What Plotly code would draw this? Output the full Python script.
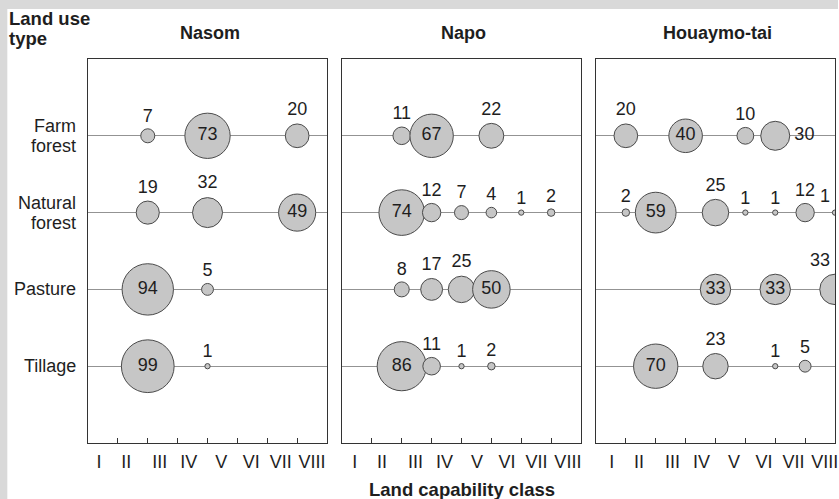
import math
import plotly.graph_objects as go

# ---------------- data ----------------
regions = ["Nasom", "Napo", "Houaymo-tai"]
land_uses = ["Farm\nforest", "Natural\nforest", "Pasture", "Tillage"]
class_labels = ["I", "II", "III", "IV", "V", "VI", "VII", "VIII"]

# values (%) per land capability class I..VIII (None = no area)
nasom_farm_forest = [None, 7, None, 73, None, None, 20, None]
nasom_natural_forest = [None, 19, None, 32, None, None, 49, None]
nasom_pasture = [None, 94, None, 5, None, None, None, None]
nasom_tillage = [None, 99, None, 1, None, None, None, None]

napo_farm_forest = [None, 11, 67, None, 22, None, None, None]
napo_natural_forest = [None, 74, 12, 7, 4, 1, 2, None]
napo_pasture = [None, 8, 17, 25, 50, None, None, None]
napo_tillage = [None, 86, 11, 1, 2, None, None, None]

houaymo_farm_forest = [20, None, 40, None, 10, 30, None, None]
houaymo_natural_forest = [2, 59, None, 25, 1, 1, 12, 1]
houaymo_pasture = [None, None, None, 33, None, 33, None, 33]
houaymo_tillage = [None, 70, None, 23, None, 1, 5, None]

region_data = {
    "Nasom": [nasom_farm_forest, nasom_natural_forest, nasom_pasture, nasom_tillage],
    "Napo": [napo_farm_forest, napo_natural_forest, napo_pasture, napo_tillage],
    "Houaymo-tai": [houaymo_farm_forest, houaymo_natural_forest, houaymo_pasture, houaymo_tillage],
}

# ---------------- layout geometry ----------------
W, H = 839, 499
ML, MR, MT, MB = 88, 1, 59, 56
PW = W - ML - MR
PH = H - MT - MB
panel_left_px = [88, 343, 598]
panel_w_px = 240
label_shift = [-0.06, 0.0, 0.1]


def px_x(px):
    return (px - ML) / PW


def px_y(py):
    return (H - MB - py) / PH


FONT = "Liberation Sans, Arial, Helvetica, sans-serif"
TXT = "#1e1e1e"
BORDER = "#333333"
GRID = "#939393"
FILL = "#c6c6c6"
EDGE = "#4a4a4a"
NUM_SIZE = 18
SIZE_K = 5.3

label_pos = [0.43, 1.34, 2.46, 3.43, 4.52, 5.52, 6.51, 7.56]

fig = go.Figure()

for i, reg in enumerate(regions):
    ax = "" if i == 0 else str(i + 1)
    xs, ys, sizes, texts, tpos = [], [], [], [], []
    for r, series in enumerate(region_data[reg]):
        for c, v in enumerate(series):
            if v is None:
                continue
            d = SIZE_K * math.sqrt(v)
            xs.append(c + 1)
            ys.append(r + 1)
            sizes.append(d)
            if c == len(series) - 1:
                # label sits above-left of a bubble on the panel's right edge
                texts.append("")
                tpos.append("top center")
                fig.add_annotation(
                    text=str(v), xref="x" + ax, yref="y" + ax, x=c + 1, y=r + 1,
                    xanchor="right", yanchor="bottom", xshift=-3, yshift=d / 2 + 2,
                    showarrow=False, font=dict(family=FONT, size=NUM_SIZE, color=TXT),
                )
                continue
            texts.append(str(v))
            if reg == "Houaymo-tai" and r == 0 and v == 30:
                tpos.append("middle right")
            elif v >= 33:
                tpos.append("middle center")
            else:
                tpos.append("top center")
    fig.add_trace(go.Scatter(
        x=xs, y=ys, mode="markers+text", text=texts, textposition=tpos,
        textfont=dict(family=FONT, size=NUM_SIZE, color=TXT),
        marker=dict(size=sizes, sizemode="diameter", color=FILL,
                    opacity=1, line=dict(color=EDGE, width=1)),
        xaxis="x" + ax, yaxis="y" + ax, showlegend=False, hoverinfo="skip",
    ))
    l = panel_left_px[i]
    fig.layout["xaxis" + ax] = dict(
        domain=[px_x(l), px_x(l + panel_w_px)], range=[0, 8], anchor="y" + ax,
        showline=True, linecolor=BORDER, linewidth=1, mirror=True,
        showgrid=False, zeroline=False,
        tickmode="array", tickvals=[p + label_shift[i] for p in label_pos],
        ticktext=class_labels, ticks="", ticklabeloverflow="allow",
        tickfont=dict(family=FONT, size=18, color=TXT), ticklabelstandoff=2,
        minor=dict(tickmode="array", tickvals=[1, 2, 3, 4, 5, 6, 7], ticks="inside",
                   ticklen=5, tickwidth=1, tickcolor=BORDER, showgrid=False),
        fixedrange=True,
    )
    fig.layout["yaxis" + ax] = dict(
        domain=[0, 1], range=[5, 0], anchor="x" + ax,
        showline=True, linecolor=BORDER, linewidth=1, mirror=True,
        tickmode="array", tickvals=[1, 2, 3, 4], showticklabels=False, ticks="",
        showgrid=True, gridcolor=GRID, gridwidth=1, zeroline=False, fixedrange=True,
    )
    fig.add_annotation(
        text="<b>%s</b>" % reg, xref="paper", yref="paper",
        x=px_x(l + panel_w_px / 2 + 2), y=px_y(33), xanchor="center", yanchor="middle",
        showarrow=False, font=dict(family=FONT, size=18, color=TXT),
    )

# land use labels on the left
for r, lab in enumerate(land_uses):
    lines = lab.split("\n")
    n = len(lines)
    for k, line in enumerate(lines):
        shift = (n - 1) * 10 - k * 20
        fig.add_annotation(
            text=line, xref="paper", yref="y", x=px_x(78), y=r + 1, yshift=shift,
            xanchor="right", yanchor="middle", showarrow=False,
            font=dict(family=FONT, size=18, color=TXT),
        )

fig.add_annotation(text="<b>Land use</b>", xref="paper", yref="paper", x=px_x(7), y=px_y(18),
                   xanchor="left", yanchor="middle", showarrow=False,
                   font=dict(family=FONT, size=18.5, color=TXT))
fig.add_annotation(text="<b>type</b>", xref="paper", yref="paper", x=px_x(7), y=px_y(38),
                   xanchor="left", yanchor="middle", showarrow=False,
                   font=dict(family=FONT, size=18.5, color=TXT))
fig.add_annotation(text="<b>Land capability class</b>", xref="paper", yref="paper",
                   x=px_x(463), y=px_y(489.5), xanchor="center", yanchor="middle",
                   showarrow=False, font=dict(family=FONT, size=18.5, color=TXT))

# grey frame strips (top and left)
GREY = "#d9d9d9"
fig.add_shape(type="rect", xref="paper", yref="paper", x0=px_x(-2), x1=px_x(7),
              y0=px_y(H + 2), y1=px_y(-2), fillcolor=GREY, line=dict(width=0), layer="below")
fig.add_shape(type="rect", xref="paper", yref="paper", x0=px_x(-2), x1=px_x(W + 2),
              y0=px_y(9), y1=px_y(-2), fillcolor=GREY, line=dict(width=0), layer="below")

fig.update_layout(
    width=W, height=H, margin=dict(l=ML, r=MR, t=MT, b=MB, pad=0),
    paper_bgcolor="white", plot_bgcolor="white", showlegend=False,
    font=dict(family=FONT, color=TXT),
)

fig.write_html(
    "out.html",
    config={"displayModeBar": False},
    post_script="document.body.style.margin='0';document.body.style.overflow='hidden';",
)
